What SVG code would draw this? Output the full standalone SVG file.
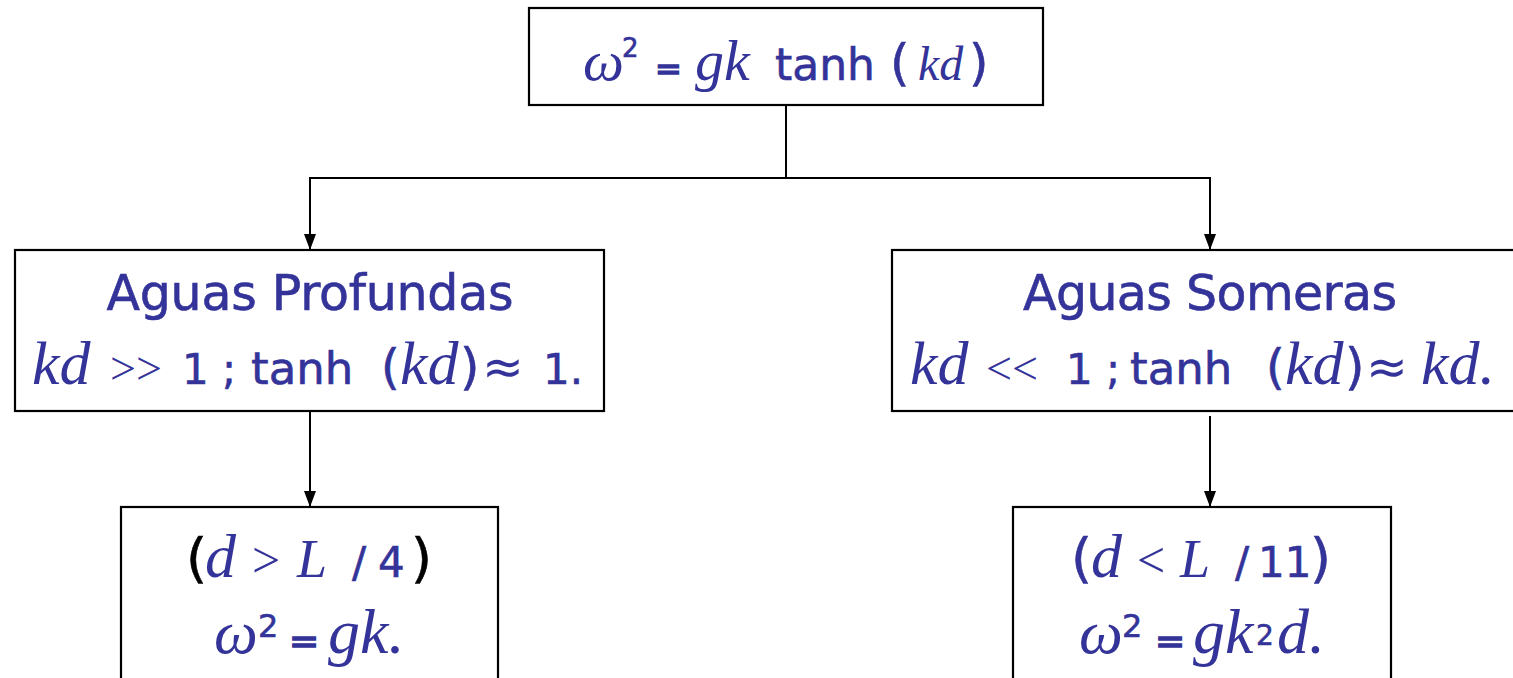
<svg xmlns="http://www.w3.org/2000/svg" width="1513" height="678" viewBox="0 0 1513 678">
<style>
.box{fill:#fff;stroke:#000;stroke-width:2.2}
.s{font-family:"DejaVu Sans","Liberation Sans",sans-serif;fill:#333399;stroke:#333399;stroke-width:0.6}
.sn{font-family:"DejaVu Sans","Liberation Sans",sans-serif;fill:#333399}
.eq{stroke-width:1.5}
.m{font-family:"Liberation Serif",serif;font-style:italic;fill:#333399}
.r{font-family:"Liberation Serif",serif;fill:#333399}
.k{fill:#000;stroke:#000}
.ln{fill:none;stroke:#000;stroke-width:2}
text{white-space:pre}
</style>
<defs>
<marker id="ah" markerUnits="userSpaceOnUse" markerWidth="18" markerHeight="14" refX="16" refY="6" orient="auto">
<path d="M0,0 L16,6 L0,12 z" fill="#000"/>
</marker>
</defs>
<rect width="1513" height="678" fill="#fff"/>
<g id="connectors">
<path class="ln" d="M786,105 V178 M309,178 H1211"/>
<path class="ln" d="M310,178 V250" marker-end="url(#ah)"/>
<path class="ln" d="M1210,178 V250" marker-end="url(#ah)"/>
<path class="ln" d="M310,411 V507" marker-end="url(#ah)"/>
<path class="ln" d="M1210,416 V507" marker-end="url(#ah)"/>
</g>
<g id="top">
<rect class="box" x="529" y="8" width="514" height="97"/>
<text y="80"><tspan class="m" font-size="58" x="583">ω</tspan><tspan class="s" font-size="26" x="622" y="57">2</tspan><tspan class="s eq" font-size="32" x="655" y="80">=</tspan><tspan class="m" font-size="58" x="695">gk</tspan><tspan class="s" font-size="44" x="775">tanh</tspan><tspan class="s" font-size="50" x="890">(</tspan><tspan class="m" font-size="48" x="918">kd</tspan><tspan class="s" font-size="50" x="969">)</tspan></text>
</g>
<g id="deep">
<rect class="box" x="15" y="250" width="589" height="161"/>
<text class="s" x="310" y="310" font-size="49" text-anchor="middle" textLength="407" lengthAdjust="spacing">Aguas Profundas</text>
<text y="384"><tspan class="m" font-size="62" x="32">kd</tspan><tspan class="r" font-size="46" x="110">&gt;&gt;</tspan><tspan class="s" font-size="42" x="182">1 ;</tspan><tspan class="s" font-size="45" x="251">tanh</tspan><tspan class="s" font-size="48" x="381">(</tspan><tspan class="m" font-size="62" x="400">kd</tspan><tspan class="s" font-size="50" x="460">)</tspan><tspan class="sn" font-size="50" x="482">≈</tspan><tspan class="s" font-size="42" x="543">1.</tspan></text>
</g>
<g id="shallow">
<rect class="box" x="892" y="250" width="636" height="161"/>
<text class="s" x="1210" y="310" font-size="49" text-anchor="middle" textLength="374" lengthAdjust="spacing">Aguas Someras</text>
<text y="384"><tspan class="m" font-size="62" x="910">kd</tspan><tspan class="r" font-size="46" x="986">&lt;&lt;</tspan><tspan class="s" font-size="42" x="1066">1 ;</tspan><tspan class="s" font-size="45" x="1130">tanh</tspan><tspan class="s" font-size="48" x="1266">(</tspan><tspan class="m" font-size="62" x="1285">kd</tspan><tspan class="s" font-size="50" x="1345">)</tspan><tspan class="sn" font-size="50" x="1366">≈</tspan><tspan class="m" font-size="62" x="1421">kd.</tspan></text>
</g>
<g id="deep-result">
<rect class="box" x="121" y="507" width="377" height="190"/>
<text y="577"><tspan class="s k" font-size="54" x="186">(</tspan><tspan class="m" font-size="62" x="205">d</tspan><tspan class="r" font-size="50" x="252">&gt;</tspan><tspan class="m" font-size="54" x="297">L</tspan><tspan class="s" font-size="42" x="352">/</tspan><tspan class="s" font-size="42" x="378">4</tspan><tspan class="s k" font-size="54" x="411">)</tspan></text>
<text y="653"><tspan class="m" font-size="62" x="214">ω</tspan><tspan class="s" font-size="32" x="258" y="637">2</tspan><tspan class="s eq" font-size="36" x="289" y="653">=</tspan><tspan class="m" font-size="64" x="328">gk.</tspan></text>
</g>
<g id="shallow-result">
<rect class="box" x="1013" y="507" width="378" height="190"/>
<text y="577"><tspan class="s" font-size="54" x="1071">(</tspan><tspan class="m" font-size="62" x="1091">d</tspan><tspan class="r" font-size="50" x="1137">&lt;</tspan><tspan class="m" font-size="54" x="1180">L</tspan><tspan class="s" font-size="42" x="1235">/</tspan><tspan class="s" font-size="42" x="1258">11</tspan><tspan class="s" font-size="54" x="1310">)</tspan></text>
<text y="653"><tspan class="m" font-size="62" x="1079">ω</tspan><tspan class="s" font-size="32" x="1122" y="637">2</tspan><tspan class="s eq" font-size="36" x="1155" y="653">=</tspan><tspan class="m" font-size="64" x="1193">gk</tspan><tspan class="s" font-size="28" x="1256" y="645">2</tspan><tspan class="m" font-size="64" x="1277" y="653">d.</tspan></text>
</g>
</svg>
